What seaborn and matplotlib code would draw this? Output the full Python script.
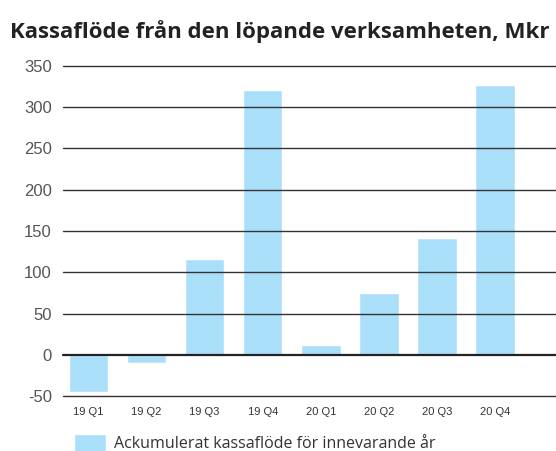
import matplotlib
matplotlib.use("Agg")
import matplotlib.pyplot as plt
import seaborn as sns
import pandas as pd

quarters = ["19 Q1", "19 Q2", "19 Q3", "19 Q4", "20 Q1", "20 Q2", "20 Q3", "20 Q4"]
cash_flow = [-45, -10, 116, 321, 12, 75, 141, 327]
y_ticks = [-50, 0, 50, 100, 150, 200, 250, 300, 350]

bar_color = "#aadff9"
label = "Ackumulerat kassaflöde för innevarande år"

sns.set_style("white")
plt.rcParams["font.family"] = ["Open Sans", "DejaVu Sans"]

df = pd.DataFrame({"quarter": quarters, "value": cash_flow})

fig = plt.figure(figsize=(5.56, 4.51), dpi=100)
ax = fig.add_axes([63 / 556, 55 / 451, 1 - 63 / 556, 330 / 451])

sns.barplot(ax=ax, data=df, x="quarter", y="value", color=bar_color,
            saturation=1, width=0.68, label=label)

ax.set_ylim(-50, 350)
ax.set_xlim(-0.44, 8.05)
ax.set_yticks(y_ticks)
ax.set_yticklabels([str(t) for t in y_ticks], fontsize=12, color="#555555",
                   family=["Liberation Sans", "DejaVu Sans"])
ax.set_xticklabels(quarters, fontsize=8, color="#333333",
                   family=["Liberation Sans", "DejaVu Sans"])
ax.tick_params(axis="y", length=0, pad=8)
ax.tick_params(axis="x", length=0, pad=8)
for t in y_ticks:
    ax.axhline(t, color="#333333" if t != 0 else "#222222",
               lw=1.0 if t != 0 else 1.6, zorder=3, clip_on=False)
for s in ax.spines.values():
    s.set_visible(False)
ax.set_xlabel("")
ax.set_ylabel("")

fig.text(10 / 556, 1 - 38 / 451, "Kassaflöde från den löpande verksamheten, Mkr",
         fontsize=16, fontweight="bold", color="#222222", ha="left", va="baseline")

ax.legend(loc="lower left", bbox_to_anchor=(60 / 556, -0.035), bbox_transform=fig.transFigure,
          frameon=False, fontsize=11.5, handlelength=2.0, handleheight=1.4,
          handletextpad=0.45, labelcolor="#333333")

fig.savefig("out.png", dpi=100)
